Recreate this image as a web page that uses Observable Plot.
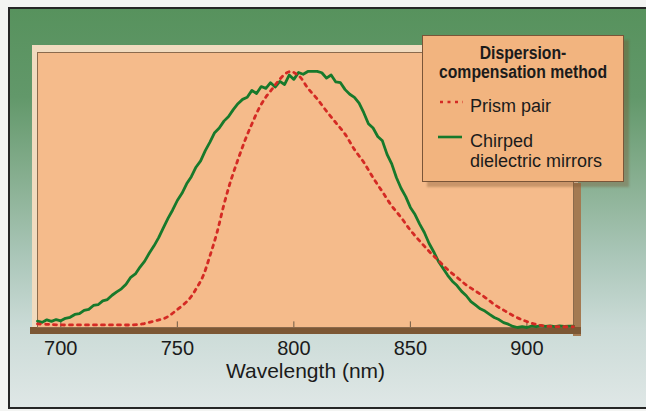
<!DOCTYPE html>
<html>
<head>
<meta charset="utf-8">
<script src="https://cdn.jsdelivr.net/npm/d3@7"></script>
<script src="https://cdn.jsdelivr.net/npm/@observablehq/plot@0.6"></script>
<style>
  html, body { margin: 0; padding: 0; }
  body { width: 646px; height: 411px; overflow: hidden; background: #f3f4f2; position: relative;
         font-family: "Liberation Sans", Arial, Helvetica, sans-serif; color: #1b1b1b; }
  .abs { position: absolute; }
  #outer { left: 8px; top: 7px; width: 650px; height: 398px; border: 2px solid #262626;
           background: linear-gradient(180deg, #57925d 0%, #62986a 22%, #86ae8f 42%, #aac6b8 62%, #cbdbd7 80%, #dfe7e6 100%); }
  #cream { left: 32px; top: 45px; width: 546px; height: 283px; background: #f1dbbf; }
  #rightband { left: 573px; top: 183px; width: 8px; height: 153px; background: #a47a52; }
  #bottomband { left: 30px; top: 327px; width: 551px; height: 7px; background: #7c5734; }
  #chart { left: 0; top: 0; }
  #legend { left: 422px; top: 35px; width: 202px; height: 147px; box-sizing: border-box;
            background: #f2b47f; border: 1px solid #7a5538; box-shadow: 5px 5px 2px rgba(120,80,45,0.35); }
  .title { left: 423px; top: 44px; width: 200px; text-align: center; font-weight: bold; font-size: 17.5px; line-height: 19px;
           transform: scaleX(0.9); transform-origin: 100px 0; white-space: nowrap; }
  .item { left: 470px; font-size: 18px; line-height: 20px; white-space: nowrap; }
</style>
</head>
<body>
<div id="outer" class="abs"></div>
<div id="cream" class="abs"></div>
<div id="rightband" class="abs"></div>
<div id="bottomband" class="abs"></div>
<div id="chart" class="abs"></div>
<div id="legend" class="abs"></div>
<div class="abs title">Dispersion-<br>compensation method</div>
<svg class="abs" style="left:0;top:0;" width="646" height="411">
  <line x1="440" x2="463" y1="102" y2="102" stroke="#d42a24" stroke-width="2.6" stroke-dasharray="3,4.5"/>
  <line x1="438" x2="462" y1="137" y2="137" stroke="#17792b" stroke-width="2.6"/>
</svg>
<div class="abs item" style="top:96px;">Prism pair</div>
<div class="abs item" style="top:131px;">Chirped<br>dielectric mirrors</div>
<script>
// Chirped dielectric mirrors (green, solid) — wavelength (nm) and relative intensity
const chirpedNm = [690,692,694,696,698,700,702,704,706,708,710,712,714,716,718,720,722,724,726,728,
  730,732,734,736,738,740,742,744,746,748,750,752,754,756,758,760,762,764,766,768,
  770,772,774,776,778,780,782,784,786,788,790,792,794,796,798,800,802,804,806,808,
  810,812,814,816,818,820,822,824,826,828,830,832,834,836,838,840,842,844,846,848,
  850,852,854,856,858,860,862,864,866,868,870,872,874,876,878,880,882,884,886,888,
  890,892,894,896,898,900,902,904,906,908,910,912,914,916,918,920];
const chirpedLevel = [0.025,0.020,0.030,0.024,0.031,0.026,0.036,0.040,0.051,0.054,0.067,0.071,0.086,0.089,0.104,0.109,0.126,0.139,0.151,0.169,
  0.196,0.209,0.236,0.259,0.291,0.319,0.351,0.389,0.426,0.459,0.496,0.524,0.561,0.589,0.626,0.651,0.691,0.724,0.761,0.779,
  0.806,0.824,0.851,0.874,0.891,0.899,0.926,0.914,0.941,0.934,0.956,0.939,0.961,0.949,0.986,0.969,0.996,0.989,1.000,1.000,
  1.000,0.995,0.974,0.986,0.959,0.956,0.929,0.911,0.899,0.876,0.839,0.796,0.779,0.746,0.729,0.676,0.639,0.586,0.544,0.511,
  0.469,0.441,0.404,0.371,0.329,0.296,0.259,0.231,0.204,0.181,0.164,0.141,0.124,0.101,0.087,0.073,0.064,0.051,0.039,0.031,
  0.019,0.013,0.004,0.000,0.003,0.000,0.006,0.003,0.007,0.004,0.006,0.003,0.006,0.004,0.005,0.005];

// Prism pair (red, dotted)
const prismNm = [690,695,700,705,710,715,720,725,730,735,740,745,750,755,758,761,764,767,770,773,
  776,779,782,785,788,791,794,797,799,801,803,806,810,814,818,822,826,830,834,838,
  842,846,850,854,858,862,866,870,874,878,882,886,890,894,898,902,906,910,915,920];
const prismLevel = [0.014,0.012,0.010,0.010,0.010,0.010,0.010,0.010,0.010,0.014,0.025,0.038,0.070,0.110,0.150,0.200,0.280,0.370,0.480,0.575,
  0.655,0.730,0.795,0.855,0.900,0.935,0.970,0.995,1.000,0.990,0.975,0.935,0.893,0.845,0.800,0.755,0.695,0.645,0.585,0.530,
  0.475,0.430,0.380,0.338,0.298,0.262,0.226,0.196,0.166,0.142,0.118,0.090,0.068,0.047,0.030,0.017,0.008,0.004,0.003,0.003];

const xTicks = [700, 750, 800, 850, 900];

const chirped = chirpedNm.map((w, i) => ({w, v: chirpedLevel[i]}));
const prism = prismNm.map((w, i) => ({w, v: prismLevel[i]}));

const chart = Plot.plot({
  width: 646,
  height: 411,
  marginLeft: 37,
  marginRight: 73,
  marginTop: 52,
  marginBottom: 84,
  x: {domain: [690, 920]},
  y: {domain: [0, 1.074], axis: null},
  style: {background: "transparent", fontFamily: "'Liberation Sans', Arial, Helvetica, sans-serif", fontSize: "20px", color: "#1b1b1b", overflow: "visible"},
  marks: [
    Plot.frame({fill: "#f5bb8b", stroke: "#8b6a4c", strokeWidth: 1}),
    Plot.ruleX(xTicks, {x: d => d, y1: 0, y2: 0.022, stroke: "#6f5a45", strokeWidth: 1}),
    Plot.lineY(chirped, {x: "w", y: "v", stroke: "#17792b", strokeWidth: 2.8}),
    Plot.lineY(prism, {x: "w", y: "v", stroke: "#d42a24", strokeWidth: 2.8, strokeDasharray: "3,5", curve: "catmull-rom"}),
    Plot.axisX({ticks: xTicks, tickSize: 0, tickPadding: 13, tickFormat: d => String(d), label: null, fontSize: 20}),
    Plot.axisX({ticks: [], tickSize: 0, label: "Wavelength (nm)", labelAnchor: "center", labelOffset: 50, labelArrow: "none", fontSize: 21})
  ]
});
document.getElementById("chart").appendChild(chart);
</script>
</body>
</html>
